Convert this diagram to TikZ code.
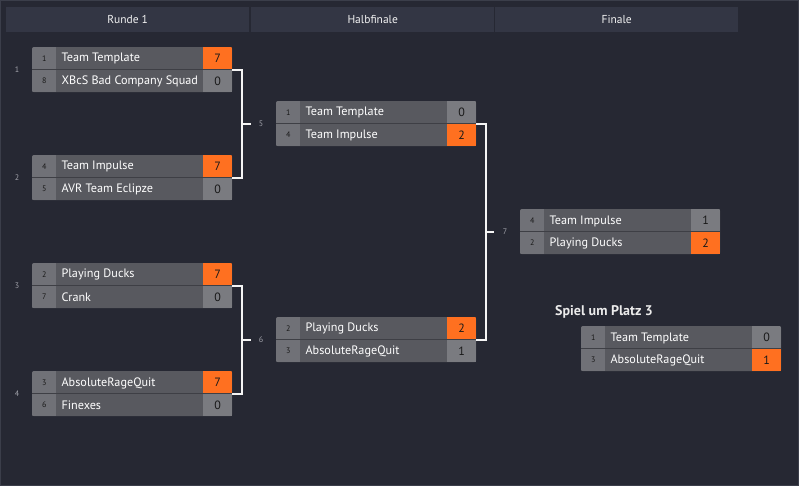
\documentclass[tikz,border=0pt]{standalone}
\usepackage{fontspec}
\setmainfont{PT Sans}
\usetikzlibrary{positioning,calc}
\definecolor{bgdark}{HTML}{262833}
\definecolor{bgline}{HTML}{3B3E4A}
\definecolor{headbg}{HTML}{333644}
\definecolor{namebg}{HTML}{58595F}
\definecolor{seedbg}{HTML}{707177}
\definecolor{scorebg}{HTML}{7A7B80}
\definecolor{winbg}{HTML}{FF7020}
\definecolor{rowsep}{HTML}{3E3F45}
\definecolor{labgray}{HTML}{A2A3AB}
\tikzset{
  head/.style     ={fill=headbg, minimum width=243pt, minimum height=25pt, inner sep=0pt,
                    anchor=north west, text=white!95!black, font=\fontsize{11.5}{12}\selectfont},
  matchbox/.style ={fill=namebg, rounded corners=2pt, minimum width=200pt, minimum height=45pt,
                    inner sep=0pt, anchor=north west},
  seedcell/.style ={fill=seedbg, minimum width=24pt, minimum height=22.5pt, inner sep=0pt,
                    anchor=north west, text=black!90, font=\fontsize{8}{8}\selectfont},
  teamtxt/.style  ={anchor=west, inner sep=0pt, text=white, font=\fontsize{12.2}{12}\selectfont},
  scorecell/.style={fill=scorebg, minimum width=29pt, minimum height=22.5pt, inner sep=0pt,
                    anchor=north east, text=black!90, font=\fontsize{12}{12}\selectfont},
  wincell/.style  ={scorecell, fill=winbg},
  mlabel/.style   ={text=labgray, font=\fontsize{8}{8}\selectfont, inner sep=0pt},
  bracket/.style  ={draw=white!96!black, line width=2pt},
}
% #1 name, #2 top left, #3 and #4 rows: offset/seed/team/score/style
\newcommand{\matchup}[4]{%
  \node[matchbox] (#1) at #2 {};
  \begin{scope}
    \clip[rounded corners=2pt] (#1.south west) rectangle (#1.north east);
    \foreach \rw/\sd/\tm/\sc/\st in {#3,#4}{
      \node[seedcell] (#1-s\rw) at ($(#1.north west)+(0,\rw*22.5)$) {\sd};
      \node[teamtxt] (#1-t\rw) at ($(#1-s\rw.east)+(5,0.5)$) {\tm};
      \node[\st] (#1-r\rw) at ($(#1.north east)+(0,\rw*22.5)$) {\sc};}
    \draw[rowsep, line width=1pt] (#1.west) -- (#1.east);
  \end{scope}}

\begin{document}
\begin{tikzpicture}[x=1pt, y=-1pt]
  \fill[bgdark, draw=bgline, line width=1pt] (0.5,0.5) rectangle (798.5,485.5);
  \useasboundingbox (0,0) rectangle (799,486);
  % headers
  \node[head] (h1) at (6,7) {Runde 1};
  \node[head] (h2) at (251,7) {Halbfinale};
  \node[head] (h3) at (495,7) {Finale};
  % runde 1
  \matchup{m1}{(32,47)}{0/1/Team Template/7/wincell}{1/8/XBcS Bad Company Squad/0/scorecell}
  \matchup{m2}{(32,155)}{0/4/Team Impulse/7/wincell}{1/5/AVR Team Eclipze/0/scorecell}
  \matchup{m3}{(32,263)}{0/2/Playing Ducks/7/wincell}{1/7/Crank/0/scorecell}
  \matchup{m4}{(32,371)}{0/3/AbsoluteRageQuit/7/wincell}{1/6/Finexes/0/scorecell}
  % halbfinale
  \matchup{m5}{(276,101)}{0/1/Team Template/0/scorecell}{1/4/Team Impulse/2/wincell}
  \matchup{m6}{(276,317)}{0/2/Playing Ducks/2/wincell}{1/3/AbsoluteRageQuit/1/scorecell}
  % finale + platz 3
  \matchup{m7}{(520,209)}{0/4/Team Impulse/1/scorecell}{1/2/Playing Ducks/2/wincell}
  \node[anchor=west, inner sep=0pt, text=white!92!black, font=\fontsize{14}{14}\selectfont\bfseries]
       (p3) at (555,312) {Spiel um Platz 3};
  \matchup{m8}{(581,326)}{0/1/Team Template/0/scorecell}{1/3/AbsoluteRageQuit/1/wincell}
  % match numbers
  \foreach \n/\x/\y in {1/17/70,2/17/178,3/17/286,4/17/394,5/261/124,6/261/340,7/505/232}{
      \node[mlabel] (l\n) at (\x,\y) {\n};}
  % brackets
  \coordinate (j5) at (242,124);
  \coordinate (j6) at (242,340);
  \coordinate (j7) at (486,232);
  \draw[bracket] (m1.east) -| (j5) |- (m2.east);
  \draw[bracket] (m3.east) -| (j6) |- (m4.east);
  \draw[bracket] (m5.east) -| (j7) |- (m6.east);
  \draw[bracket, shorten >=8pt] (j5) -- (l5.west);
  \draw[bracket, shorten >=8pt] (j6) -- (l6.west);
  \draw[bracket, shorten >=9pt] (j7) -- (l7.west);
\end{tikzpicture}
\end{document}
